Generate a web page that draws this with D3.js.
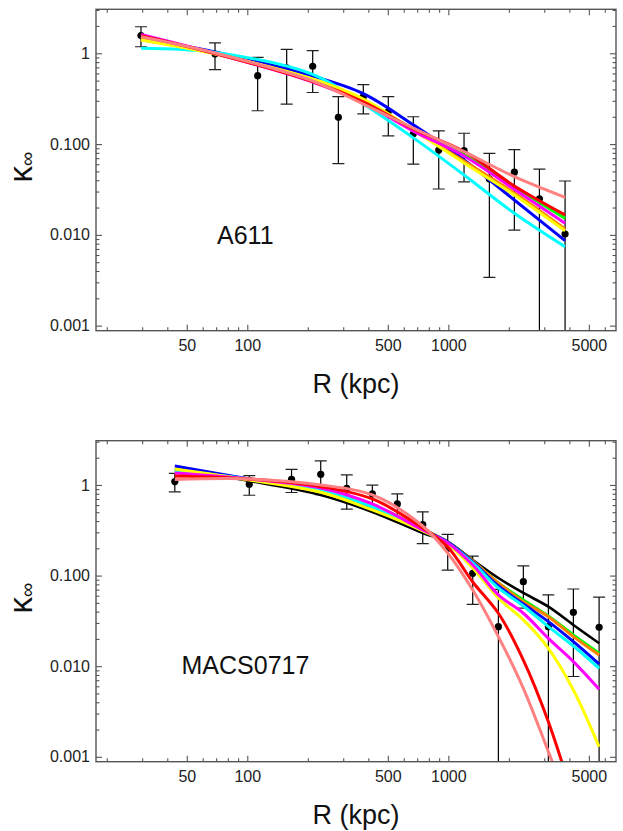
<!DOCTYPE html>
<html>
<head>
<meta charset="utf-8">
<script src="https://cdn.jsdelivr.net/npm/d3@7"></script>
<style>
  body { margin: 0; background: #fff; }
  svg { display: block; font-family: "Liberation Sans", Arial, sans-serif; }
  .tick text { font-size: 16px; fill: #222; }
  .tick line { stroke: #555; stroke-width: 1.1; }
</style>
</head>
<body>
<svg id="chart" width="623" height="831"></svg>
<script>
// axis ticks
var xMajor = [50, 100, 500, 1000, 5000];
var xMinor = [20, 30, 40, 60, 70, 80, 90, 200, 300, 400, 600, 700, 800, 900, 2000, 3000, 4000, 6000];
var yMajor = [1, 0.1, 0.01, 0.001];
var yMajorLabels = ["1", "0.100", "0.010", "0.001"];
var yMinor = [3, 2, 0.9, 0.8, 0.7, 0.6, 0.5, 0.4, 0.3, 0.2,
  0.09, 0.08, 0.07, 0.06, 0.05, 0.04, 0.03, 0.02,
  0.009, 0.008, 0.007, 0.006, 0.005, 0.004, 0.003, 0.002];

// A611 measurements
var a611R = [29.6, 69.1, 112.6, 157, 211.5, 283.8, 377.6, 502.8, 669.6, 896, 1197, 1600, 2130, 2838, 3808];
var a611Kappa = [1.57, 0.98, 0.567, 0.69, 0.72, 0.197, 0.333, 0.228, 0.13, 0.086, 0.085, 0.0413, 0.049, 0.025, 0.0102];
var a611Sigma = [0.39, 0.32, 0.334, 0.415, 0.35, 0.136, 0.118, 0.105, 0.07, 0.054, 0.0466, 0.0379, 0.0377, 0.028, 0.029];

// A611 model curves
var a611CurveR = [29.6, 69.1, 211.5, 377.6, 669.6, 1197, 2130, 3808];
var a611Blue    = [1.474, 1.033, 0.562, 0.36, 0.163, 0.0668, 0.0242, 0.00863];
var a611Cyan    = [1.135, 1.02, 0.585, 0.276, 0.117, 0.0457, 0.0173, 0.0074];
var a611Green   = [1.512, 0.995, 0.489, 0.291, 0.143, 0.0759, 0.0337, 0.0152];
var a611Orange  = [1.419, 0.995, 0.508, 0.298, 0.141, 0.0652, 0.0289, 0.0116];
var a611Yellow  = [1.40, 0.982, 0.521, 0.314, 0.143, 0.0619, 0.0275, 0.0111];
var a611Magenta = [1.611, 0.995, 0.483, 0.284, 0.139, 0.074, 0.0318, 0.0134];
var a611Red     = [1.563, 0.995, 0.489, 0.291, 0.147, 0.0829, 0.0346, 0.0166];
var a611Pink    = [1.523, 1.008, 0.495, 0.276, 0.150, 0.0825, 0.0438, 0.0259];

// MACS0717 measurements
var macsR = [43.6, 102.3, 166, 231.9, 312.4, 418.8, 557.6, 746, 993, 1322, 1774, 2361, 3145, 4188, 5623];
var macsKappa = [1.09, 1.02, 1.156, 1.31, 0.915, 0.796, 0.617, 0.365, 0.20, 0.106, 0.0273, 0.0857, 0.0273, 0.0394, 0.0269];
var macsSigma = [0.25, 0.25, 0.33, 0.53, 0.375, 0.2, 0.18, 0.14, 0.085, 0.058, 0.043, 0.042, 0.034, 0.0317, 0.031];

// MACS0717 model curves
var macsCurveR = [43.6, 102.3, 232, 419, 746, 993, 1322, 1774, 2361, 3145, 4188, 5623];
var macsBlack   = [1.502, 1.107, 0.776, 0.504, 0.295, 0.235, 0.1486, 0.0941, 0.0643, 0.0454, 0.0285, 0.0179];
var macsGreen   = [1.464, 1.165, 0.903, 0.601, 0.3268, 0.235, 0.1449, 0.0829, 0.0538, 0.0358, 0.0221, 0.01388];
var macsOrange  = [1.391, 1.165, 0.903, 0.601, 0.3268, 0.235, 0.1449, 0.0829, 0.0515, 0.0352, 0.0212, 0.0133];
var macsBlue    = [1.621, 1.165, 0.865, 0.553, 0.3186, 0.235, 0.1413, 0.0768, 0.0486, 0.031, 0.01864, 0.01057];
var macsCyan    = [1.427, 1.165, 0.881, 0.572, 0.3186, 0.229, 0.1378, 0.073, 0.0462, 0.0273, 0.0167, 0.00948];
var macsYellow  = [1.502, 1.136, 0.831, 0.53, 0.3107, 0.2233, 0.1213, 0.0566, 0.0324, 0.01576, 0.00546, 0.00129];
var macsMagenta = [1.357, 1.165, 0.927, 0.617, 0.3186, 0.229, 0.131, 0.0611, 0.0384, 0.0203, 0.01122, 0.00556];
var macsRed     = [1.257, 1.165, 0.958, 0.7006, 0.3352, 0.2068, 0.085, 0.0384, 0.0117, 0.00244, 0.000342];
var macsPink    = [1.15, 1.165, 1.0, 0.776, 0.3528, 0.1776, 0.0694, 0.0212, 0.0057, 0.00114, 0.000217];

var svg = d3.select("#chart");
var left = 96, right = 616;

function drawPanel(p) {
  var x = d3.scaleLog().domain([17.68, 6823]).range([left, right]);
  var y = d3.scaleLog().domain(p.yDomain).range([p.bottom, p.top]);
  var g = svg.append("g");
  var clipId = "clip-" + p.name;

  g.append("clipPath").attr("id", clipId)
    .append("rect")
      .attr("x", left).attr("y", p.top)
      .attr("width", right - left).attr("height", p.bottom - p.top);

  // bottom + left with labels
  g.append("g")
    .attr("transform", "translate(0," + p.bottom + ")")
    .call(d3.axisBottom(x).tickValues(xMajor).tickFormat(d3.format("d")).tickSize(-6).tickPadding(9));
  g.append("g")
    .attr("transform", "translate(0," + p.bottom + ")")
    .call(d3.axisBottom(x).tickValues(xMinor).tickFormat("").tickSize(-3.5));
  g.append("g")
    .attr("transform", "translate(" + left + ",0)")
    .call(d3.axisLeft(y).tickValues(yMajor).tickFormat(function(d, i) { return yMajorLabels[i]; }).tickSize(-6).tickPadding(6));
  g.append("g")
    .attr("transform", "translate(" + left + ",0)")
    .call(d3.axisLeft(y).tickValues(yMinor).tickFormat("").tickSize(-3.5));

  // mirrored ticks, no labels
  g.append("g")
    .attr("transform", "translate(0," + p.top + ")")
    .call(d3.axisTop(x).tickValues(xMajor).tickFormat("").tickSize(-6));
  g.append("g")
    .attr("transform", "translate(0," + p.top + ")")
    .call(d3.axisTop(x).tickValues(xMinor).tickFormat("").tickSize(-3.5));
  g.append("g")
    .attr("transform", "translate(" + right + ",0)")
    .call(d3.axisRight(y).tickValues(yMajor).tickFormat("").tickSize(-6));
  g.append("g")
    .attr("transform", "translate(" + right + ",0)")
    .call(d3.axisRight(y).tickValues(yMinor).tickFormat("").tickSize(-3.5));

  g.selectAll(".domain").remove();

  var plot = g.append("g").attr("clip-path", "url(#" + clipId + ")");

  // error bars
  var pts = p.r.map(function(r, i) { return {r: r, k: p.kappa[i], s: p.sigma[i]}; });
  var yLo = function(d) { return d.k - d.s > 0 ? y(d.k - d.s) : p.bottom + 2; };
  var bars = plot.selectAll(".err").data(pts).enter().append("g");
  bars.append("line")
    .attr("x1", function(d) { return x(d.r); }).attr("x2", function(d) { return x(d.r); })
    .attr("y1", function(d) { return y(d.k + d.s); }).attr("y2", yLo)
    .attr("stroke", "#000").attr("stroke-width", 1.2);
  bars.append("line")
    .attr("x1", function(d) { return x(d.r) - 6; }).attr("x2", function(d) { return x(d.r) + 6; })
    .attr("y1", function(d) { return y(d.k + d.s); }).attr("y2", function(d) { return y(d.k + d.s); })
    .attr("stroke", "#222").attr("stroke-width", 1.2);
  bars.filter(function(d) { return d.k - d.s > 0; }).append("line")
    .attr("x1", function(d) { return x(d.r) - 6; }).attr("x2", function(d) { return x(d.r) + 6; })
    .attr("y1", yLo).attr("y2", yLo)
    .attr("stroke", "#222").attr("stroke-width", 1.2);
  plot.selectAll(".dot").data(pts).enter().append("circle")
    .attr("cx", function(d) { return x(d.r); })
    .attr("cy", function(d) { return y(d.k); })
    .attr("r", 3.6).attr("fill", "#000");

  // model curves
  var line = d3.line()
    .x(function(d) { return x(d[0]); })
    .y(function(d) { return y(d[1]); })
    .curve(d3.curveCatmullRom.alpha(0.5));
  p.curves.forEach(function(c) {
    plot.append("path")
      .datum(c.values.map(function(v, i) { return [p.curveR[i], v]; }))
      .attr("fill", "none")
      .attr("stroke", c.color)
      .attr("stroke-width", c.width || 3)
      .attr("stroke-linejoin", "round")
      .attr("d", line);
  });

  // frame
  g.append("rect")
    .attr("x", left).attr("y", p.top)
    .attr("width", right - left).attr("height", p.bottom - p.top)
    .attr("fill", "none").attr("stroke", "#555").attr("stroke-width", 1.4);

  // titles
  g.append("text")
    .attr("x", p.labelX).attr("y", p.labelY)
    .attr("font-size", 25).attr("fill", "#111")
    .text(p.label);
  g.append("text")
    .attr("x", (left + right) / 2).attr("y", p.bottom + 62)
    .attr("text-anchor", "middle").attr("font-size", 27).attr("fill", "#111")
    .text("R (kpc)");
  var yt = g.append("text")
    .attr("transform", "translate(32," + ((p.top + p.bottom) / 2 - 3) + ") rotate(-90)")
    .attr("text-anchor", "middle").attr("font-size", 33).attr("fill", "#111");
  yt.append("tspan").text("κ");
  yt.append("tspan").attr("font-size", 20).attr("dy", 2).text("∞");
}

drawPanel({
  name: "a611", top: 9.3, bottom: 330.7, yDomain: [0.00088, 3.052],
  r: a611R, kappa: a611Kappa, sigma: a611Sigma, curveR: a611CurveR,
  label: "A611", labelX: 217, labelY: 243.5,
  curves: [
    {color: "#0000ff", values: a611Blue},
    {color: "#00ffff", values: a611Cyan},
    {color: "#00ff00", values: a611Green},
    {color: "#ff8000", values: a611Orange},
    {color: "#ffff00", values: a611Yellow},
    {color: "#ff00ff", values: a611Magenta},
    {color: "#ff0000", values: a611Red},
    {color: "#ff8080", values: a611Pink}
  ]
});

drawPanel({
  name: "macs", top: 440.7, bottom: 761.7, yDomain: [0.000883, 3.08],
  r: macsR, kappa: macsKappa, sigma: macsSigma, curveR: macsCurveR,
  label: "MACS0717", labelX: 181.5, labelY: 673.5,
  curves: [
    {color: "#000000", values: macsBlack, width: 2.6},
    {color: "#00ff00", values: macsGreen},
    {color: "#ff8000", values: macsOrange},
    {color: "#0000ff", values: macsBlue},
    {color: "#00ffff", values: macsCyan},
    {color: "#ffff00", values: macsYellow},
    {color: "#ff00ff", values: macsMagenta},
    {color: "#ff0000", values: macsRed},
    {color: "#ff8080", values: macsPink}
  ]
});
</script>
</body>
</html>
